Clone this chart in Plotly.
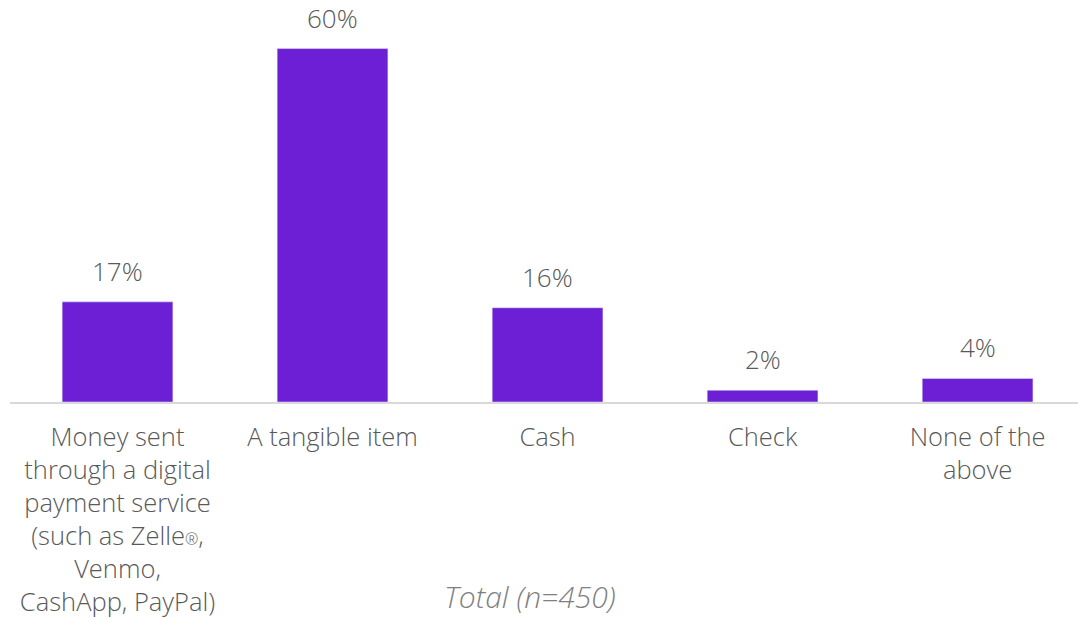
import plotly.graph_objects as go

categories = [
    "Money sent<br>through a digital<br>payment service<br>(such as Zelle<span style='font-size:16px'>®</span>,<br>Venmo,<br>CashApp, PayPal)",
    "A tangible item",
    "Cash",
    "Check",
    "None of the<br>above",
]
values = [17, 60, 16, 2, 4]
labels = [f"{v}%" for v in values]

bar_color = "#6C1FD4"
text_color = "#595959"
font_family = "Open Sans"

fig = go.Figure(
    go.Bar(
        x=list(range(len(categories))),
        y=values,
        marker=dict(color=bar_color),
        width=0.515,
    )
)

# value labels above each bar
for i, (v, lab) in enumerate(zip(values, labels)):
    fig.add_annotation(
        x=i,
        y=v,
        text=lab,
        showarrow=False,
        yanchor="bottom",
        yshift=11,
        font=dict(family=font_family, size=26, color=text_color, weight=300),
    )

fig.update_layout(
    width=1078,
    height=618,
    margin=dict(l=10, r=0, t=0, b=216),
    paper_bgcolor="white",
    plot_bgcolor="white",
    showlegend=False,
    font=dict(family=font_family, color=text_color, weight=300),
)

fig.update_xaxes(
    range=[-0.5, 4.467],
    tickmode="array",
    tickvals=list(range(len(categories))),
    ticktext=categories,
    tickfont=dict(family=font_family, size=25.5, color=text_color, weight=300),
    tickangle=0,
    showline=True,
    linecolor="#D9D9D9",
    linewidth=2,
    ticks="outside",
    ticklen=11,
    tickcolor="rgba(0,0,0,0)",
    showgrid=False,
    zeroline=False,
)
fig.update_yaxes(
    range=[0, 68.25],
    visible=False,
    showgrid=False,
    zeroline=False,
)

fig.add_annotation(
    text="<i>Total (n=450)</i>",
    xref="paper",
    yref="paper",
    x=0.487,
    y=-0.485,
    xanchor="center",
    yanchor="middle",
    showarrow=False,
    font=dict(family=font_family, size=30, color="#7F7F7F", weight=300),
)

fig.write_html("out.html")
